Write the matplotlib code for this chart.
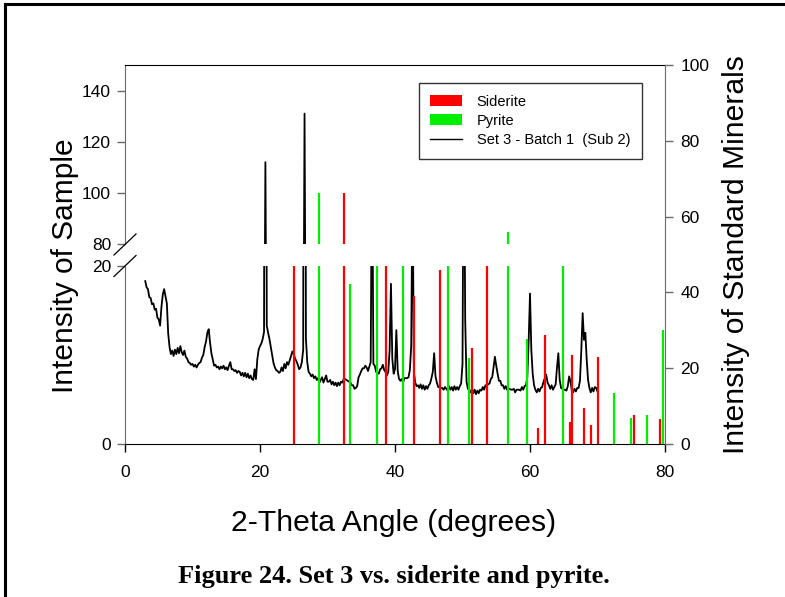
import numpy as np
import matplotlib
matplotlib.use('Agg')
import matplotlib.pyplot as plt
from matplotlib.lines import Line2D
from matplotlib.patches import Patch

plt.rcParams['font.family'] = ['Liberation Sans', 'DejaVu Sans']

# XRD scan, 0.2 deg step from 3 to 70 deg 2-theta
two_theta = np.round(np.arange(3.0, 70.01, 0.2), 1)
counts = [
    18.3, 17.6, 17.4, 16.5, 16.4, 15.7, 15.8, 15.1, 15.2, 14.2,
    14.0, 13.3, 15.4, 16.8, 17.4, 16.6, 15.8, 12.4, 10.9, 10.1,
    10.5, 9.9, 10.6, 10.1, 10.8, 10.2, 11.0, 10.3, 10.0, 10.5,
    9.8, 9.6, 9.2, 9.1, 8.9, 9.0, 8.7, 8.9, 8.6, 8.9,
    9.1, 9.2, 9.7, 10.0, 10.9, 11.5, 12.5, 12.9, 11.4, 10.2,
    9.5, 8.8, 8.9, 8.6, 8.7, 8.4, 8.7, 8.5, 8.8, 8.4,
    8.6, 8.3, 8.8, 9.2, 8.4, 8.4, 8.2, 8.3, 8.0, 8.2,
    8.1, 7.7, 8.0, 7.6, 8.0, 7.5, 7.9, 7.4, 7.7, 7.3,
    7.2, 8.4, 7.3, 9.5, 10.6, 11.0, 11.3, 11.8, 12.6, 112.0,
    13.3, 12.5, 11.8, 10.9, 10.0, 9.1, 8.6, 8.3, 8.2, 8.0,
    8.1, 8.6, 8.2, 9.0, 8.5, 9.2, 8.9, 9.4, 9.9, 10.4,
    10.1, 9.6, 9.3, 8.9, 8.4, 8.6, 9.2, 10.6, 131.0, 11.9,
    9.2, 8.1, 7.9, 7.6, 7.8, 7.4, 7.6, 7.2, 7.4, 6.9,
    7.2, 7.5, 6.9, 7.3, 7.7, 7.0, 7.0, 7.2, 6.7, 7.0,
    6.6, 6.9, 6.5, 6.9, 6.6, 7.0, 6.9, 7.3, 7.3, 7.2,
    7.1, 7.0, 6.9, 6.6, 6.6, 6.2, 6.3, 6.5, 7.5, 7.8,
    8.2, 8.5, 8.5, 8.8, 8.6, 8.2, 8.7, 9.2, 35.0, 9.0,
    8.8, 8.1, 8.0, 7.9, 8.4, 8.5, 8.9, 8.3, 8.1, 7.7,
    8.1, 10.5, 18.0, 9.6, 7.9, 8.4, 12.8, 8.2, 7.3, 7.1,
    7.3, 6.9, 7.4, 7.4, 7.4, 7.5, 8.3, 11.0, 30.0, 8.0,
    6.9, 6.5, 6.6, 6.3, 6.7, 6.2, 6.6, 6.1, 6.5, 6.2,
    6.6, 6.8, 7.4, 8.1, 10.2, 7.6, 6.9, 6.4, 6.4, 6.3,
    6.3, 6.1, 6.4, 6.2, 6.0, 6.5, 6.1, 6.4, 6.0, 6.5,
    6.1, 6.4, 6.1, 6.5, 6.8, 9.0, 40.0, 14.0, 7.0, 6.2,
    6.0, 5.8, 6.2, 5.7, 6.1, 5.6, 6.0, 5.7, 6.1, 6.0,
    6.4, 6.1, 6.6, 6.6, 6.7, 6.8, 7.3, 7.5, 8.6, 9.8,
    8.8, 7.9, 7.1, 7.1, 6.6, 6.6, 6.2, 6.5, 6.1, 6.2,
    6.2, 6.1, 6.1, 6.2, 5.8, 6.1, 6.1, 6.1, 6.0, 6.4,
    6.1, 6.5, 6.6, 7.5, 11.5, 16.9, 10.5, 7.9, 6.6, 6.1,
    5.8, 6.2, 5.9, 6.3, 6.4, 7.0, 7.4, 7.8, 6.9, 6.6,
    6.2, 6.6, 6.1, 6.4, 6.7, 8.6, 10.2, 7.2, 6.3, 6.2,
    6.1, 6.1, 6.0, 6.5, 7.6, 7.0, 6.0, 5.8, 6.2, 5.9,
    6.3, 6.3, 7.1, 10.5, 14.7, 11.7, 12.5, 9.5, 7.2, 6.3,
    5.8, 6.3, 5.9, 6.4, 6.3, 5.9,
]

# standard patterns (relative intensity)
siderite_x = [25.0, 32.4, 38.7, 42.8, 46.65, 51.35, 53.65, 61.15, 62.2,
              65.95, 66.2, 67.95, 69.0, 70.1, 75.45, 79.25]
siderite_h = [28, 100, 22, 16.6, 19.5, 10.8, 25, 1.8, 12.3,
              2.5, 10.0, 4.0, 2.1, 9.8, 3.3, 2.8]
pyrite_x = [28.75, 33.3, 37.38, 41.12, 47.88, 50.95, 56.75, 59.5, 64.85,
            72.45, 74.9, 77.33, 79.75]
pyrite_h = [100, 18.0, 65, 50, 40, 9.7, 84.8, 11.8, 35,
            5.7, 2.9, 3.3, 12.8]

W, H = 785, 597
fig = plt.figure(figsize=(W / 100, H / 100), dpi=100)

def box(x0, y0, x1, y1):
    return [x0 / W, 1 - y1 / H, (x1 - x0) / W, (y1 - y0) / H]

ax_lo = fig.add_axes(box(125, 266, 665, 444))
ax_hi = fig.add_axes(box(125, 65, 665, 244))
ax_r = fig.add_axes(box(125, 65, 665, 444))

spine_grey = '#6a6a6a'
for ax in (ax_lo, ax_hi):
    ax.vlines(siderite_x, 0, siderite_h, colors='#ff0000', lw=1.6, zorder=3)
    ax.vlines(pyrite_x, 0, pyrite_h, colors='#00ee00', lw=1.6, zorder=3)
    ax.plot(two_theta, counts, color='black', lw=1.3, zorder=2)
    ax.set_xlim(0, 80)
    ax.spines['right'].set_visible(False)
    ax.spines['left'].set_color(spine_grey)
    ax.tick_params(axis='y', direction='out', length=6, width=1,
                   color=spine_grey, labelsize=12.5, pad=4)

ax_lo.set_ylim(0, 20)
ax_lo.set_yticks([0, 20])
ax_lo.spines['top'].set_visible(False)
ax_lo.set_xticks([0, 20, 40, 60, 80])
ax_lo.tick_params(axis='x', direction='out', length=6, width=1,
                  labelsize=12.5, pad=9)

ax_hi.set_ylim(80, 150)
ax_hi.set_yticks([80, 100, 120, 140])
ax_hi.spines['bottom'].set_visible(False)
ax_hi.tick_params(axis='x', bottom=False, labelbottom=False)

# right-hand scale for the standard minerals
ax_r.patch.set_visible(False)
for s in ('left', 'top', 'bottom'):
    ax_r.spines[s].set_visible(False)
ax_r.spines['right'].set_color(spine_grey)
ax_r.set_xticks([])
ax_r.set_ylim(0, 100)
ax_r.yaxis.tick_right()
ax_r.set_yticks([0, 20, 40, 60, 80, 100])
ax_r.tick_params(axis='y', direction='out', length=6, width=1,
                 color=spine_grey, labelsize=12.5, pad=5)

# axis break marks
for yc in (244.5, 266):
    fig.add_artist(Line2D([114 / W, 136 / W], [1 - (yc + 10.5) / H, 1 - (yc - 10.5) / H],
                          color='black', lw=0.9))

fig.text(394 / W, 1 - 523 / H, '2-Theta Angle (degrees)', ha='center', va='center',
         fontsize=21.7)
fig.text(65 / W, 1 - 266 / H, 'Intensity of Sample', ha='center', va='center',
         rotation=90, fontsize=21.5)
fig.text(736 / W, 1 - 255 / H, 'Intensity of Standard Minerals', ha='center',
         va='center', rotation=90, fontsize=21.7)

handles = [Patch(facecolor='#ff0000', edgecolor='none'),
           Patch(facecolor='#00ee00', edgecolor='none'),
           Line2D([], [], color='black', lw=1.0)]
labels = ['Siderite', 'Pyrite', 'Set 3 - Batch 1  (Sub 2)']
leg = fig.legend(handles, labels, loc='upper right',
                 bbox_to_anchor=(642 / W, 1 - 83 / H), fontsize=10.5,
                 frameon=True, fancybox=False, edgecolor='black',
                 handlelength=2.2, handleheight=0.8, borderaxespad=0,
                 labelspacing=0.35, borderpad=0.8, handletextpad=1.0)
leg.get_frame().set_linewidth(1.0)

fig.text(394 / W, 1 - 577 / H, 'Figure 24. Set 3 vs. siderite and pyrite.',
         ha='center', va='center', fontsize=19, fontweight='bold',
         family=['Liberation Serif', 'DejaVu Serif'])

# page frame
fig.add_artist(Line2D([5 / W, 5 / W], [0, 1 - 4 / H], color='black', lw=2.2))
fig.add_artist(Line2D([5 / W, 1], [1 - 4 / H, 1 - 4 / H], color='black', lw=2.2))

fig.savefig('out.png', dpi=100)
